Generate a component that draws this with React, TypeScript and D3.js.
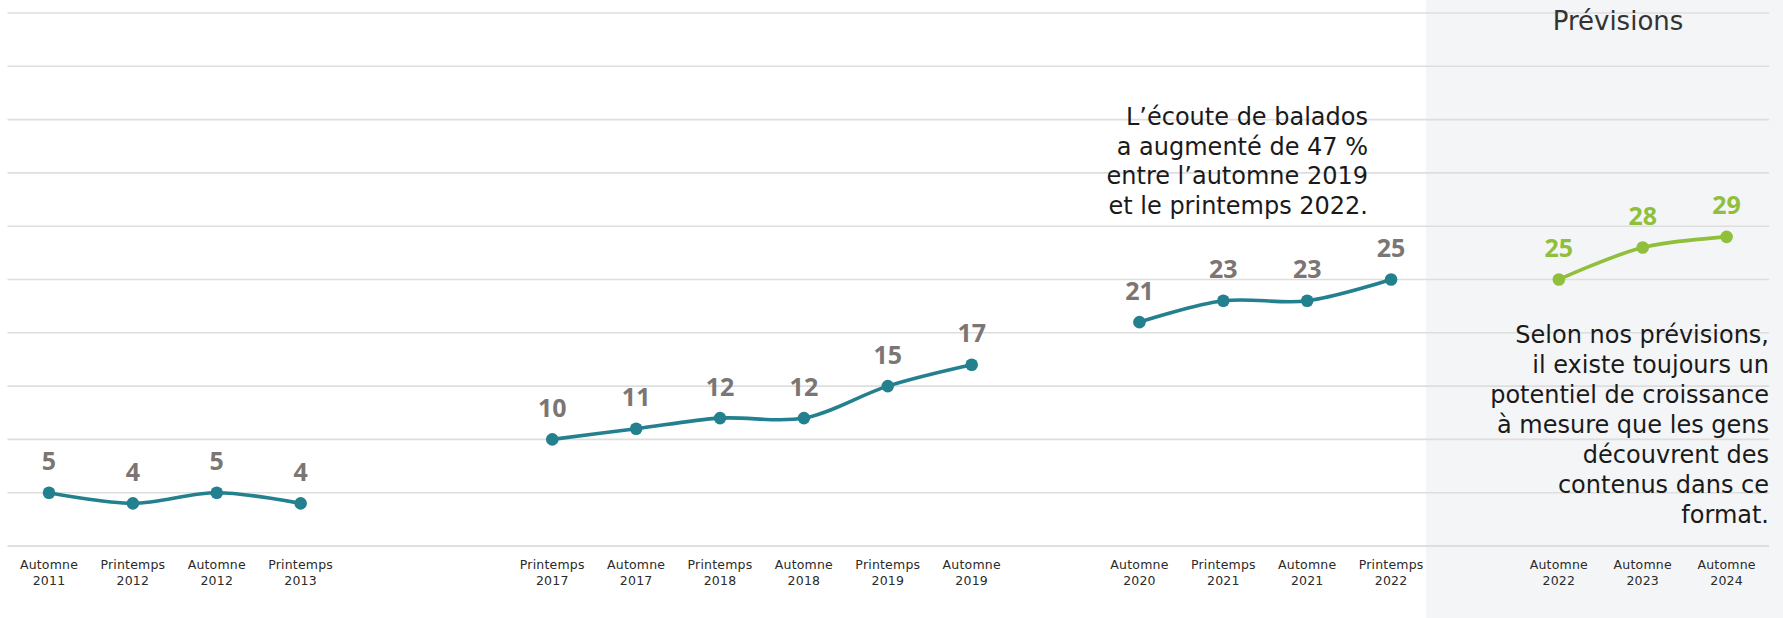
import React from "react";
import * as d3 from "d3";

const categories = [
  "Automne 2011", "Printemps 2012", "Automne 2012", "Printemps 2013",
  "Printemps 2017", "Automne 2017", "Printemps 2018", "Automne 2018", "Printemps 2019", "Automne 2019",
  "Automne 2020", "Printemps 2021", "Automne 2021", "Printemps 2022",
  "Automne 2022", "Automne 2023", "Automne 2024",
];
// position of each category on the time axis (gaps = missing survey periods)
const slots = [0, 1, 2, 3, 6, 7, 8, 9, 10, 11, 13, 14, 15, 16, 18, 19, 20];
const values = [5, 4, 5, 4, 10, 11, 12, 12, 15, 17, 21, 23, 23, 25, 25, 28, 29];
// index ranges [start, end) of connected line segments
const historicalSegments = [[0, 4], [4, 10], [10, 14]];
const forecastSegments = [[14, 17]];
const gridTicks = [0, 5, 10, 15, 20, 25, 30, 35, 40, 45, 50];

const annotation1 = [
  "L\u2019écoute de balados",
  "a augmenté de 47 %",
  "entre l\u2019automne 2019",
  "et le printemps 2022.",
];
const annotation2 = [
  "Selon nos prévisions,",
  "il existe toujours un",
  "potentiel de croissance",
  "à mesure que les gens",
  "découvrent des",
  "contenus dans ce",
  "format.",
];
const forecastTitle = "Prévisions";

const W = 1783;
const H = 618;
const TEAL = "#23808f";
const GREEN = "#90bf3b";
const LABEL_GRAY = "#7b7674";
const FONT = "'DejaVu Sans', sans-serif";

export default function App() {
  const x = d3.scaleLinear().domain([0, 20]).range([49, 1726.6]);
  const y = d3.scaleLinear().domain([0, 50]).range([546, 13]);
  const line = d3
    .line<number>()
    .x((i) => x(slots[i]))
    .y((i) => y(values[i]))
    .curve(d3.curveCatmullRom.alpha(0.5));

  const panelX = (x(16) + x(17)) / 2 - 7;

  const renderSeries = (segs: number[][], color: string) =>
    segs.map(([s, e], k) => {
      const idx = d3.range(s, e);
      return (
        <g key={k}>
          <path d={line(idx) || ""} fill="none" stroke={color} strokeWidth={3.6} strokeLinejoin="round" />
          {idx.map((i) => (
            <circle key={i} cx={x(slots[i])} cy={y(values[i])} r={6.3} fill={color} />
          ))}
          {idx.map((i) => (
            <text
              key={"t" + i}
              x={x(slots[i])}
              y={y(values[i]) - 22.5}
              textAnchor="middle"
              fontFamily="'Open Sans', sans-serif"
              fontWeight={700}
              fontSize={25}
              fill={color === GREEN ? GREEN : LABEL_GRAY}
            >
              {values[i]}
            </text>
          ))}
        </g>
      );
    });

  return (
    <svg
      width={W}
      height={H}
      style={{ position: "absolute", left: 0, top: 0, display: "block", background: "#fff" }}
    >
      <rect x={panelX} y={0} width={W - panelX} height={H} fill="#f4f5f7" />
      {gridTicks.map((t) => (
        <line
          key={t}
          x1={7.5}
          x2={1769}
          y1={y(t)}
          y2={y(t)}
          stroke={t === 0 ? "#d6d6d6" : "#dedede"}
          strokeWidth={1.6}
        />
      ))}
      {categories.map((c, i) => {
        const [a, b] = c.split(" ");
        return (
          <text
            key={c}
            x={x(slots[i])}
            textAnchor="middle"
            fontFamily={FONT}
            fontSize={12.5}
            letterSpacing={0.2}
            fill="#2a2a2a"
          >
            <tspan x={x(slots[i])} y={569}>{a}</tspan>
            <tspan x={x(slots[i])} y={585}>{b}</tspan>
          </text>
        );
      })}
      {renderSeries(historicalSegments, TEAL)}
      {renderSeries(forecastSegments, GREEN)}
      <text x={1618} y={30} textAnchor="middle" fontFamily={FONT} fontSize={26} fill="#333">
        {forecastTitle}
      </text>
      <text textAnchor="end" fontFamily={FONT} fontSize={24} fill="#1a1a1a">
        {annotation1.map((l, i) => (
          <tspan key={i} x={1368} y={125 + i * 29.5}>{l}</tspan>
        ))}
      </text>
      <text textAnchor="end" fontFamily={FONT} fontSize={24} fill="#1a1a1a">
        {annotation2.map((l, i) => (
          <tspan key={i} x={1769} y={342.5 + i * 30}>{l}</tspan>
        ))}
      </text>
    </svg>
  );
}
